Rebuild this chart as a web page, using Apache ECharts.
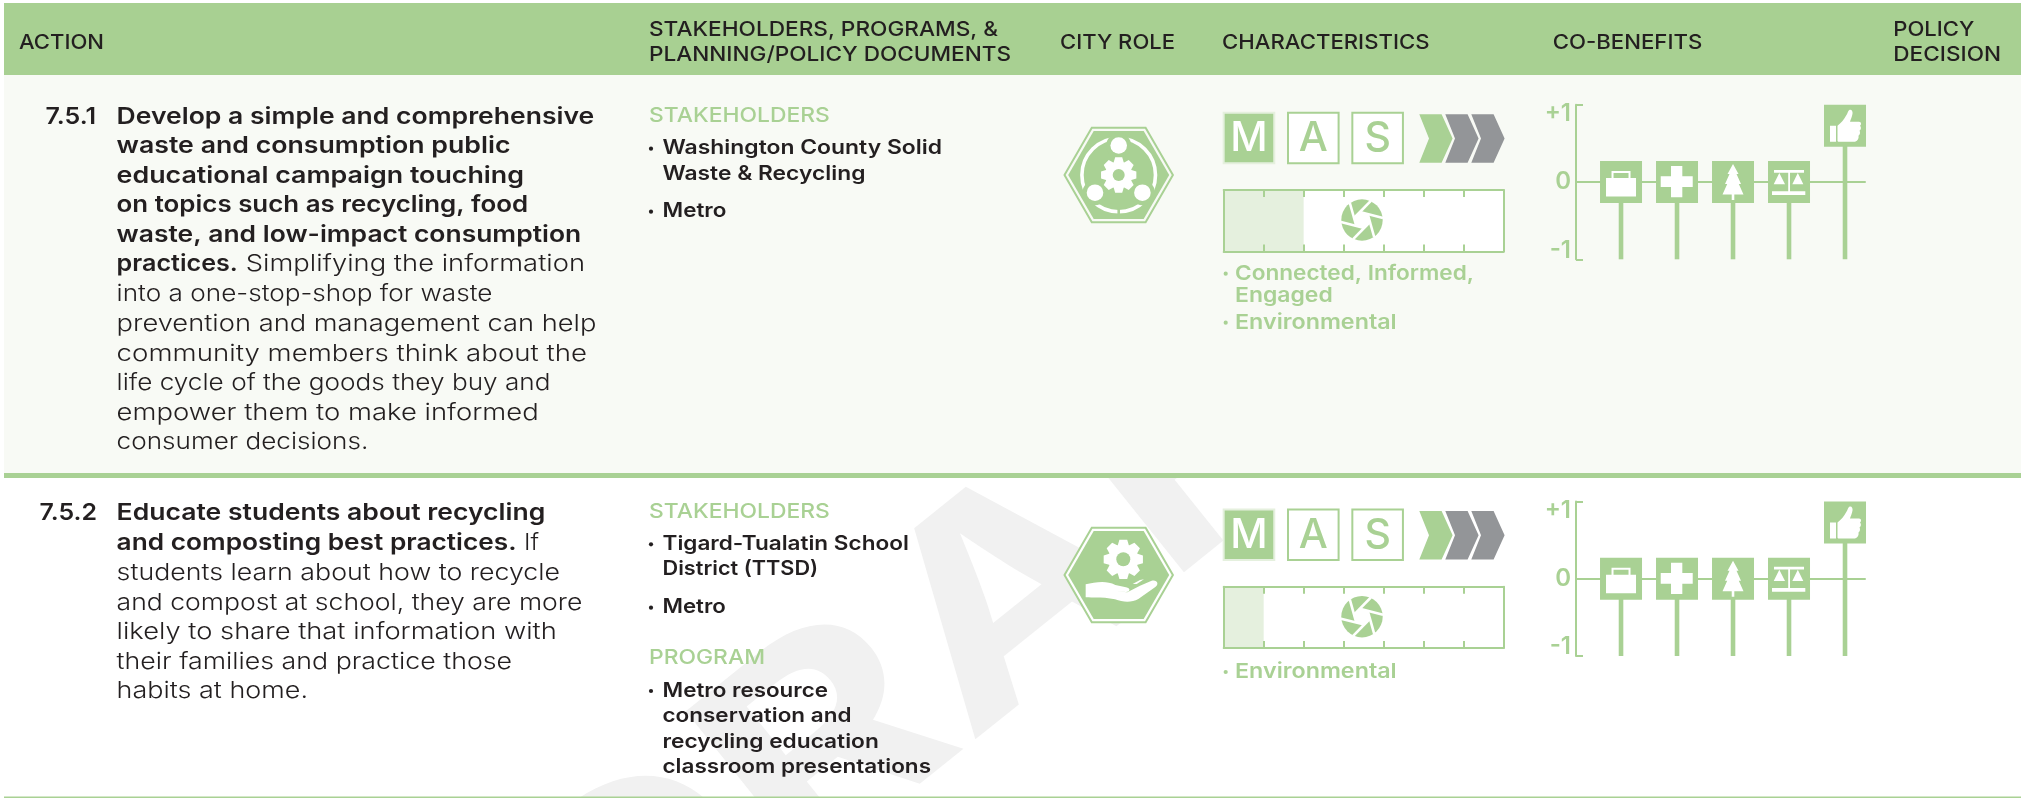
<!DOCTYPE html>
<html><head><meta charset="utf-8">
<style>html,body{margin:0;padding:0;background:#fff}#c{width:2021px;height:798px}</style>
<script src="https://cdn.jsdelivr.net/npm/echarts@6/dist/echarts.min.js"></script>
</head><body><div id="c"></div>
<script>
// ---------- data ----------
const headerAction = 'ACTION';
const headerStakeholders = ['STAKEHOLDERS, PROGRAMS, &', 'PLANNING/POLICY DOCUMENTS'];
const headerRole = 'CITY ROLE';
const headerCharacteristics = 'CHARACTERISTICS';
const headerBenefits = 'CO-BENEFITS';
const headerDecision = ['POLICY', 'DECISION'];
const watermark = 'DRAFT';
const actionNumbers = ['7.5.1', '7.5.2'];
const action1Bold = ['Develop a simple and comprehensive', 'waste and consumption public', 'educational campaign touching', 'on topics such as recycling, food', 'waste, and low-impact consumption', 'practices.'];
const action1Body = ['Simplifying the information', 'into a one-stop-shop for waste', 'prevention and management can help', 'community members think about the', 'life cycle of the goods they buy and', 'empower them to make informed', 'consumer decisions.'];
const action2Bold = ['Educate students about recycling', 'and composting best practices.'];
const action2Body = ['If', 'students learn about how to recycle', 'and compost at school, they are more', 'likely to share that information with', 'their families and practice those', 'habits at home.'];
const stakeHead = 'STAKEHOLDERS';
const programHead = 'PROGRAM';
const stake1 = ['Washington County Solid', 'Waste & Recycling', 'Metro'];
const stake2 = ['Tigard-Tualatin School', 'District (TTSD)', 'Metro'];
const program2 = ['Metro resource', 'conservation and', 'recycling education', 'classroom presentations'];
const char1 = ['Connected, Informed,', 'Engaged', 'Environmental'];
const char2 = ['Environmental'];
const masLabels = ['M', 'A', 'S'];
const masActive = [[1, 0, 0], [1, 0, 0]];
const chevronActive = [[1, 0, 0], [1, 0, 0]];
const ribbonCells = 7;
const ribbonFilled = [2, 1];
const benefitPositions = [1, 2, 3, 4, 5];
const benefitValues = [[0, 0, 0, 0, 1], [0, 0, 0, 0, 1]];
const benefitTicks = [-1, 0, 1];

// ---------- style ----------
const GREEN = '#a9d194', HEAD = '#a8d092', PALE = '#e5f0de', GREY = '#939598', INK = '#231f20', ROW = '#f8faf5';
const FONT = 'Inter';
const ctx = document.createElement('canvas').getContext('2d');
const S = {
  head: { weight: 550, size: 20.5, fill: INK },
  bold: { weight: 600, size: 23.2, fill: INK },
  body: { weight: 300, size: 23.2, fill: INK },
  ghead: { weight: 500, size: 20.5, fill: GREEN },
  list: { weight: 600, size: 19.8, fill: INK },
  char: { weight: 600, size: 20.5, fill: GREEN }
};
const G = [], decor = [];
// draws text so that it spans x0..x1
function T(text, x0, x1, y, s) {
  ctx.font = s.weight + ' ' + s.size + 'px ' + FONT;
  const sx = (x1 - x0) / ctx.measureText(text).width;
  G.push({ type: 'text', x: x0, y: y + 0.8, scaleX: sx, z: 100, silent: true, style: { text, fill: s.fill, fontFamily: FONT, fontSize: s.size, fontWeight: s.weight, textAlign: 'left', textVerticalAlign: 'middle' } });
}
function bullet(x, y, s) { G.push({ type: 'circle', z: 100, silent: true, shape: { cx: x, cy: y + 1, r: 2.1 }, style: { fill: s.fill } }); }
function rect(x, y, w, h, fill, z) { G.push({ type: 'rect', z, silent: true, shape: { x, y, width: w, height: h }, style: { fill } }); }

// watermark
(function () {
  const th = 38.7 * Math.PI / 180, fs = 279, w = 700, sx = 1.215;
  ctx.font = w + ' ' + fs + 'px ' + FONT;
  const off = (ctx.measureText('DR').width + ctx.measureText('A').width / 2 - ctx.measureText(watermark).width / 2) * sx;
  G.push({ type: 'text', x: 1015.3 - off * Math.cos(th), y: 599.8 + off * Math.sin(th), rotation: th, scaleX: sx, z: -5, silent: true, style: { text: watermark, fill: '#f1f1f1', fontFamily: FONT, fontSize: fs, fontWeight: w, textAlign: 'center', textVerticalAlign: 'middle' } });
})();
rect(4, 75, 2017, 398, ROW, -3);
rect(4, 3, 2017, 72, HEAD, -2);
rect(4, 473, 2017, 5, GREEN, -2);
rect(4, 796.5, 2017, 1.5, GREEN, -2);

// header
T(headerAction, 19, 104, 42, S.head);
T(headerStakeholders[0], 649, 998, 29, S.head);
T(headerStakeholders[1], 649, 1011, 54.5, S.head);
T(headerRole, 1060, 1175, 42, S.head);
T(headerCharacteristics, 1222, 1429.5, 42, S.head);
T(headerBenefits, 1552.7, 1702.3, 42, S.head);
T(headerDecision[0], 1893.3, 1974.3, 29, S.head);
T(headerDecision[1], 1893.3, 2001, 54.5, S.head);

// action column
const X1 = 116.6;
T(actionNumbers[0], 45.5, 96, 116, S.bold);
const y1 = [116, 145.7, 175.3, 204.5, 234.2, 263.7, 293.5, 323.3, 352.8, 382.6, 411.9, 441.7];
const end1Bold = [594.3, 510.5, 524, 528.2, 581.2, 237.8];
const end1Body = [585, 492.4, 596.4, 587.1, 550.5, 538.7, 368.3];
action1Bold.forEach((t, i) => T(t, X1, end1Bold[i], y1[i], S.bold));
T(action1Body[0], 245.8, end1Body[0], y1[5], S.body);
action1Body.slice(1).forEach((t, i) => T(t, X1, end1Body[i + 1], y1[6 + i], S.body));
T(actionNumbers[1], 39.5, 97, 512.7, S.bold);
const y2 = [512.7, 542.7, 572.7, 602.3, 631.7, 661, 690.7];
const end2Bold = [545.3, 516.6];
const end2Body = [539, 560, 582.3, 556.8, 512.1, 308];
action2Bold.forEach((t, i) => T(t, X1, end2Bold[i], y2[i], S.bold));
T(action2Body[0], 524, end2Body[0], y2[1], S.body);
action2Body.slice(1).forEach((t, i) => T(t, X1, end2Body[i + 1], y2[2 + i], S.body));

// stakeholders column
const X2 = 662.5;
T(stakeHead, 649, 829.8, 115, S.ghead);
[[147.7, 942], [173, 865.4], [210.7, 726.4]].forEach((p, i) => T(stake1[i], X2, p[1], p[0], S.list));
bullet(651, 147.7, S.list); bullet(651, 210.7, S.list);
T(stakeHead, 649, 829.8, 510.7, S.ghead);
[[543.3, 908.8], [568.3, 818.2], [606.7, 725.8]].forEach((p, i) => T(stake2[i], X2, p[1], p[0], S.list));
bullet(651, 543.3, S.list); bullet(651, 606.7, S.list);
T(programHead, 649, 765, 656.7, S.ghead);
[[690, 828], [715.7, 851.4], [741, 878.8], [766.7, 931]].forEach((p, i) => T(program2[i], X2, p[1], p[0], S.list));
bullet(651, 690, S.list);

// characteristics labels
[[272.7, 1474], [294.7, 1332.7], [321.7, 1396.7]].forEach((p, i) => T(char1[i], 1235, p[1], p[0], S.char));
bullet(1225.7, 272.7, S.char); bullet(1225.7, 321.7, S.char);
T(char2[0], 1235, 1396.7, 671, S.char); bullet(1225.7, 671, S.char);

// ---------- city role icons ----------
function hexPts(cx, cy, rx, inset, h) { return [[cx - rx, cy], [cx - rx + inset, cy - h], [cx + rx - inset, cy - h], [cx + rx, cy], [cx + rx - inset, cy + h], [cx - rx + inset, cy + h]]; }
function hexagon(cx, cy, gap) {
  G.push({ type: 'polygon', z: 90, silent: true, shape: { points: hexPts(cx, cy, 54.2, 27.3, 47.2) }, style: { fill: gap, stroke: GREEN, lineWidth: 2 } });
  G.push({ type: 'polygon', z: 91, silent: true, shape: { points: hexPts(cx, cy, 50.5, 25.5, 44) }, style: { fill: GREEN } });
}
function gearPath(cx, cy, R, r, n) {
  let d = '';
  for (let i = 0; i < n; i++) {
    const a = i * 2 * Math.PI / n - Math.PI / 2, w = Math.PI / n;
    const p = [[r, a - w * .95], [R, a - w * .5], [R, a + w * .5], [r, a + w * .95]];
    p.forEach((q, j) => { d += (i === 0 && j === 0 ? 'M' : 'L') + (cx + q[0] * Math.cos(q[1])).toFixed(2) + ' ' + (cy + q[0] * Math.sin(q[1])).toFixed(2); });
  }
  return d + 'Z';
}
function gear(cx, cy, R, hole) {
  decor.push({ type: 'path', shape: { pathData: gearPath(cx, cy, R, R * .76, 8) }, style: { fill: '#fff' } });
  G.push({ type: 'circle', z: 94, silent: true, shape: { cx, cy, r: hole }, style: { fill: GREEN } });
}
(function () {
  const cx = 1118.7, cy = 175;
  hexagon(cx, cy, ROW);
  G.push({ type: 'circle', z: 92, silent: true, shape: { cx, cy, r: 36.8 }, style: { fill: 'none', stroke: '#fff', lineWidth: 3.6 } });
  [[cx, 145.5], [1095, 192.7], [1142.4, 192.7]].forEach(p => {
    G.push({ type: 'circle', z: 92, silent: true, shape: { cx: p[0], cy: p[1], r: 12.5 }, style: { fill: GREEN } });
    G.push({ type: 'circle', z: 92, silent: true, shape: { cx: p[0], cy: p[1], r: 8.3 }, style: { fill: '#fff' } });
  });
  G.push({ type: 'rect', z: 92, silent: true, shape: { x: cx - 1.3, y: 207, width: 2.6, height: 8 }, style: { fill: GREEN } });
  gear(cx, cy, 18, 6);
})();
(function () {
  hexagon(1118.7, 575, '#fff');
  gear(1123.3, 559.3, 20, 7);
  decor.push({ type: 'path', x: 1040, y: 490, scaleX: 1 / 3, scaleY: 1 / 3, shape: { pathData: 'M137 283C165 277 198 270 226 285L258 292C272 294 272 306 258 306L226 304L262 307L300 287L335 272C352 268 358 282 346 291L295 327C275 338 250 337 225 328C195 320 165 323 137 322Z' }, style: { fill: '#fff' } });
  decor.push({ type: 'path', x: 1040, y: 490, scaleX: 1 / 3, scaleY: 1 / 3, shape: { pathData: 'M278 282L300 270L312 268L290 282Z' }, style: { fill: '#fff' } });
})();
function iris(cx, cy) {
  const R = 20.7, r = 8.2;
  G.push({ type: 'circle', z: 95, silent: true, shape: { cx, cy, r: R }, style: { fill: GREEN } });
  const pts = [];
  for (let i = 0; i < 6; i++) { const a = i * Math.PI / 3 + .25; pts.push([cx + r * Math.cos(a), cy + r * Math.sin(a)]); }
  G.push({ type: 'polygon', z: 96, silent: true, shape: { points: pts }, style: { fill: '#fff' } });
  for (let i = 0; i < 6; i++) {
    const p = pts[i], q = pts[(i + 1) % 6], dx = q[0] - p[0], dy = q[1] - p[1], L = Math.hypot(dx, dy);
    G.push({ type: 'line', z: 96, silent: true, shape: { x1: p[0], y1: p[1], x2: p[0] + dx / L * 24, y2: p[1] + dy / L * 24 }, style: { stroke: '#fff', lineWidth: 2.6 } });
  }
}
iris(1362, 220); iris(1362, 616.7);

// ---------- benefit icons (in a 42 x 42 box) ----------
const benefitIcons = [
  'M6 17H36V35.5H6ZM11.5 17V10H30.5V17H28.5V12H13.5V17Z',
  'M15 5H26.3V15.3H36.7V26H26.3V36.3H15V26H4.7V15.3H15Z',
  'M21 3L26.5 13H24.5L29 23H26.8L31.5 33.5H22.3V39H19.7V33.5H10.5L15.2 23H13L17.5 13H15.5Z',
  'M6 9H36V11.7H22V30.3H37.3V34H4V30.3H20.2V11.7H6ZM11.3 12L17 23.3H5.7ZM29.8 12L35.3 23.3H24.3Z',
  'M6 21H12V37H6ZM13.5 21C17 18 20 15 22 11C24 8 24 6 25 5.5C27 4 29 6 28.5 9C28 12 26.5 15 26 17H35C37.5 17 37.5 20 36 21C37.5 22.5 37 25 35.5 26C36.5 27.5 36 30 34.5 31C35 33 34 36 31 37H15C14 37 13.5 36.5 13.5 36Z'
];

// ---------- charts ----------
const grids = [], xAxes = [], yAxes = [], series = [];
function addGrid(l, t, w, h) { grids.push({ left: l, top: t, width: w, height: h, containLabel: false, z: 1 }); return grids.length - 1; }
const hiddenAxis = o => Object.assign({ show: false }, o);
[0, 396.7].forEach((dy, row) => {
  // MAS boxes
  let g = addGrid(1216.8, 111.7 + dy, 193, 52.6);
  let xi = xAxes.push(hiddenAxis({ gridIndex: g, type: 'category', data: masLabels })) - 1;
  let yi = yAxes.push(hiddenAxis({ gridIndex: g, type: 'value', min: 0, max: 1 })) - 1;
  series.push({
    type: 'custom', xAxisIndex: xi, yAxisIndex: yi, silent: true,
    data: masLabels.map((m, i) => [i, masActive[row][i]]),
    renderItem(p, api) {
      const c = api.coord([api.value(0), .5]), on = api.value(1), s = 52.6;
      return { type: 'group', children: [
        { type: 'rect', shape: { x: c[0] - s / 2 + 1, y: c[1] - s / 2 + 1, width: s - 2, height: s - 2 }, style: { fill: on ? GREEN : '#fff', stroke: on ? PALE : GREEN, lineWidth: 2 } },
        { type: 'text', x: c[0], y: c[1] + 1, style: { text: masLabels[p.dataIndex], fill: on ? '#fff' : GREEN, fontFamily: FONT, fontSize: 41, fontWeight: 500, textAlign: 'center', textVerticalAlign: 'middle' } }
      ] };
    }
  });
  // chevrons
  g = addGrid(1423, 114.3 + dy, 78, 48.4);
  xi = xAxes.push(hiddenAxis({ gridIndex: g, type: 'category', data: masLabels })) - 1;
  yi = yAxes.push(hiddenAxis({ gridIndex: g, type: 'value', min: 0, max: 1 })) - 1;
  series.push({
    type: 'custom', xAxisIndex: xi, yAxisIndex: yi, silent: true,
    data: masLabels.map((m, i) => [i, chevronActive[row][i]]),
    renderItem(p, api) {
      const c = api.coord([api.value(0), .5]), x = c[0] - 16.7, t = c[1] - 24.2, b = c[1] + 24.2;
      return { type: 'polygon', shape: { points: [[x, t], [x + 22.3, t], [x + 33.3, c[1]], [x + 22.3, b], [x, b], [x + 9.7, c[1]]] }, style: { fill: api.value(1) ? GREEN : GREY } };
    }
  });
  // ribbon
  g = addGrid(1223.7, 190 + dy, 279.8, 61.4);
  const ax = { gridIndex: g, type: 'value', min: 0, max: ribbonCells, interval: 1, z: 5,
    axisLine: { show: true, onZero: false, lineStyle: { color: GREEN, width: 2 } },
    axisTick: { show: true, inside: true, length: 7, lineStyle: { color: GREEN, width: 2 } },
    axisLabel: { show: false }, splitLine: { show: false } };
  xi = xAxes.push(Object.assign({}, ax, { position: 'bottom' })) - 1;
  xAxes.push(Object.assign({}, ax, { position: 'top' }));
  const ay = { gridIndex: g, type: 'category', data: [''], z: 5,
    axisLine: { show: true, onZero: false, lineStyle: { color: GREEN, width: 2 } }, axisTick: { show: false }, axisLabel: { show: false } };
  yi = yAxes.push(Object.assign({}, ay, { position: 'left' })) - 1;
  yAxes.push(Object.assign({}, ay, { position: 'right' }));
  grids[g].show = true; grids[g].backgroundColor = '#fff'; grids[g].borderWidth = 0;
  series.push({ type: 'bar', xAxisIndex: xi, yAxisIndex: yi, silent: true, barWidth: '100%', z: 2, data: [ribbonFilled[row]], itemStyle: { color: PALE } });
  // co-benefits
  g = addGrid(1576, 104.7 + dy, 289, 154.6);
  xi = xAxes.push({ gridIndex: g, type: 'value', min: 0.196, max: 5.357,
    axisLine: { show: true, onZero: true, lineStyle: { color: GREEN, width: 2 } }, axisTick: { show: false }, axisLabel: { show: false }, splitLine: { show: false } }) - 1;
  yi = yAxes.push({ gridIndex: g, type: 'value', min: -1.13, max: 1.13, splitLine: { show: false },
    axisLine: { show: true, onZero: false, lineStyle: { color: GREEN, width: 2 } },
    axisTick: { show: true, inside: true, length: 7, customValues: [-1.13, 1.13], lineStyle: { color: GREEN, width: 2 } },
    axisLabel: { show: true, margin: 5, padding: [3, 0, 0, 0], customValues: benefitTicks, color: GREEN, fontFamily: FONT, fontSize: 24, fontWeight: 600, formatter: v => v > 0 ? '+' + v : String(v) } }) - 1;
  series.push({
    type: 'custom', xAxisIndex: xi, yAxisIndex: yi, silent: true, z: 3,
    data: benefitPositions.map((x, i) => [x, benefitValues[row][i]]),
    renderItem(p, api) {
      const c = api.coord([api.value(0), api.value(1)]), top = api.coord([api.value(0), 1.13])[1], bot = api.coord([api.value(0), -1.13])[1];
      const cy = Math.max(c[1], top + 21), x = c[0];
      return { type: 'group', children: [
        { type: 'rect', shape: { x: x - 2.3, y: cy, width: 4.6, height: bot - cy }, style: { fill: GREEN } },
        { type: 'rect', shape: { x: x - 21, y: cy - 21, width: 42, height: 42 }, style: { fill: GREEN } },
        { type: 'path', x: x - 21, y: cy - 21, shape: { pathData: benefitIcons[p.dataIndex] }, style: { fill: '#fff' } }
      ] };
    }
  });
});
// icon paths
series.push({ type: 'custom', coordinateSystem: 'none', silent: true, z: 93, data: [[0]], renderItem() { return { type: 'group', children: decor }; } });

const chart = echarts.init(document.getElementById('c'), null, { renderer: 'canvas' });
chart.setOption({ animation: false, backgroundColor: '#fff', tooltip: { show: false }, grid: grids, xAxis: xAxes, yAxis: yAxes, series, graphic: { elements: G } });
</script></body></html>
